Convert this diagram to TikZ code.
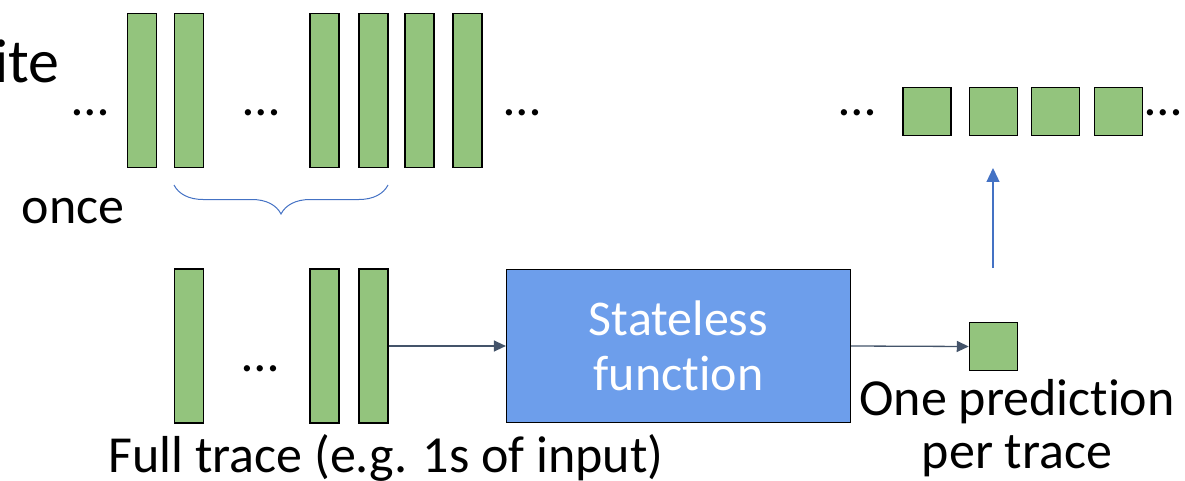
\documentclass[tikz,border=0pt]{standalone}
\usepackage{fontspec}
\setmainfont{Carlito}[Ligatures=NoCommon]
\usetikzlibrary{arrows.meta,decorations.pathreplacing}
\definecolor{tracegreen}{HTML}{93C47D}
\definecolor{funcblue}{HTML}{6D9EEB}
\definecolor{linkgray}{HTML}{44546A}
\definecolor{accentblue}{HTML}{4472C4}
\begin{document}
\begin{tikzpicture}[x=1pt,y=-1pt,
  font=\fontsize{52}{60}\selectfont,
  frame/.style={draw=black,line width=1.5pt,fill=tracegreen,inner sep=0pt,
    minimum width=29pt,minimum height=154pt},
  pred/.style={draw=black,line width=1.5pt,fill=tracegreen,inner sep=0pt,
    minimum size=48pt},
  func/.style={draw=black,line width=1.2pt,fill=funcblue,text=white,
    minimum width=344pt,minimum height=153pt,align=center,
    font=\fontsize{50}{55}\selectfont},
  label/.style={anchor=base,inner sep=0pt},
  link/.style={draw=linkgray,line width=1.3pt,-{Triangle[length=12pt,width=11pt]}},
  >=Triangle]
  \useasboundingbox (0,0) rectangle (1185,481);
  % top row: frames in the stream
  \node[label,anchor=base east,font=\fontsize{62}{70}\selectfont] (ite) at (60,83) {ite};
  \node[label] (once) at (73,223) {once};
  \node[label] (dotsa) at (90,116) {…};
  \node[frame] (fa) at (142,90.5) {};
  \node[frame] (fb) at (189,90.5) {};
  \node[label] (dotsb) at (261,116) {…};
  \foreach \x/\n in {324.5/fc,373.5/fd,419.5/fe,467.5/ff}
    \node[frame] (\n) at (\x,90.5) {};
  \node[label] (dotsc) at (522,116) {…};
  \draw[accentblue,line width=1pt,decorate,decoration={brace,mirror,amplitude=29pt}]
    (174,185) -- (388,185);
  % top row: predictions
  \node[label] (dotsd) at (857,116) {…};
  \foreach \x/\n in {927/pa,993.5/pb,1055.5/pc,1118.5/pd}
    \node[pred] (\n) at (\x,111.5) {};
  \node[label] (dotse) at (1163,116) {…};
  % bottom row: one full trace
  \node[frame] (ta) at (189,346) {};
  \node[label] (dotsf) at (260.5,371) {…};
  \node[frame] (tb) at (324.5,346) {};
  \node[frame] (tc) at (373.5,346) {};
  \node[label] (trace) at (386,472) {Full trace (e.g. 1s of input)};
  \node[func] (func) at (678.5,346) {Stateless\\function};
  \node[pred] (out) at (993.5,346.5) {};
  \node[label] (onea) at (1017,415) {One prediction};
  \node[label] (oneb) at (1017,468) {per trace};
  \draw[link] (tc.east) -- (func.west);
  \draw[link] (func.east) -- (out.west);
  \coordinate (upfrom) at (993,268);
  \coordinate (upto) at (993,168);
  \draw[accentblue,line width=1.3pt,-{Triangle[length=14pt,width=13pt]}] (upfrom) -- (upto);
\end{tikzpicture}
\end{document}
